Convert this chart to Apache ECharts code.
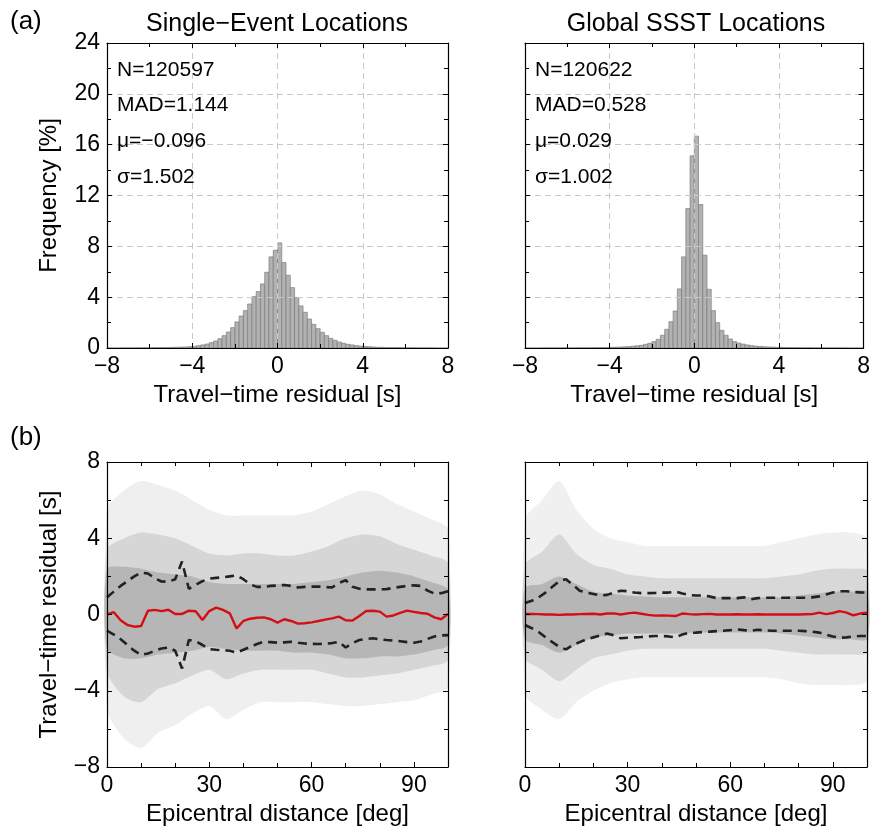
<!DOCTYPE html>
<html>
<head>
<meta charset="utf-8">
<script src="https://cdn.jsdelivr.net/npm/echarts@6/dist/echarts.min.js"></script>
<style>
  html, body { margin: 0; padding: 0; background: #fff; }
  #chart { width: 873px; height: 832px; }
</style>
</head>
<body>
<div id="chart"></div>
<script>
// histogram bins: 80 bins of 0.2 s from -8 to 8, frequency in %
const binStart = -8;
const binWidth = 0.2;
const histSingle = [
  0.00, 0.00, 0.00, 0.01, 0.01, 0.01, 0.01, 0.01, 0.02, 0.02,
  0.02, 0.03, 0.03, 0.04, 0.04, 0.05, 0.06, 0.07, 0.08, 0.10,
  0.13, 0.18, 0.24, 0.31, 0.42, 0.55, 0.73, 0.97, 1.26, 1.60,
  2.05, 2.52, 2.94, 3.46, 4.04, 4.44, 5.04, 5.96, 7.17, 7.69,
  8.27, 6.72, 5.72, 4.75, 3.96, 3.31, 2.81, 2.28, 1.86, 1.52,
  1.23, 0.97, 0.76, 0.60, 0.47, 0.37, 0.29, 0.24, 0.18, 0.15,
  0.12, 0.10, 0.08, 0.06, 0.05, 0.04, 0.04, 0.03, 0.03, 0.02,
  0.02, 0.02, 0.01, 0.01, 0.01, 0.01, 0.01, 0.00, 0.00, 0.00
];
const histSSST = [
  0.00, 0.00, 0.00, 0.00, 0.01, 0.01, 0.01, 0.01, 0.01, 0.01,
  0.01, 0.01, 0.02, 0.02, 0.02, 0.02, 0.03, 0.03, 0.04, 0.04,
  0.05, 0.06, 0.07, 0.09, 0.11, 0.14, 0.17, 0.21, 0.29, 0.37,
  0.50, 0.68, 1.00, 1.47, 2.07, 2.91, 4.65, 7.17, 10.97, 15.12,
  16.67, 11.29, 7.30, 4.62, 2.94, 1.99, 1.39, 1.00, 0.71, 0.50,
  0.39, 0.31, 0.24, 0.19, 0.15, 0.12, 0.10, 0.08, 0.07, 0.05,
  0.05, 0.04, 0.04, 0.03, 0.03, 0.02, 0.02, 0.02, 0.01, 0.01,
  0.01, 0.01, 0.01, 0.01, 0.01, 0.01, 0.00, 0.00, 0.00, 0.00
];

const statsSingle = ['N=120597', 'MAD=1.144', 'μ=−0.096', 'σ=1.502'];
const statsSSST = ['N=120622', 'MAD=0.528', 'μ=0.029', 'σ=1.002'];

// median and spread lines vs epicentral distance, 2 deg steps
const dist = [0,2,4,6,8,10,12,14,16,18,20,22,24,26,28,30,32,34,36,38,40,42,44,46,48,50,
  52,54,56,58,60,62,64,66,68,70,72,74,76,78,80,82,84,86,88,90,92,94,96,98,100];

const medianSingle = [0.0, 0.12, -0.3, -0.55, -0.64, -0.6, 0.2, 0.24, 0.18, 0.25, 0.03, 0.03, 0.2,
  0.17, -0.29, 0.18, 0.36, 0.24, 0.06, -0.73, -0.34, -0.22, -0.17, -0.15, -0.25, -0.43, -0.25,
  -0.34, -0.48, -0.46, -0.41, -0.34, -0.27, -0.2, -0.11, -0.3, -0.32, -0.08, 0.18, 0.2, 0.15,
  -0.11, -0.05, 0.08, 0.2, 0.14, 0.08, 0.04, -0.15, -0.25, 0.03];
const upperSingle = [0.9, 1.2, 1.5, 1.75, 2.0, 2.2, 2.15, 1.9, 1.73, 1.72, 1.85, 2.78, 1.35,
  1.55, 1.75, 1.88, 1.92, 1.95, 2.0, 2.05, 1.85, 1.58, 1.45, 1.45, 1.5, 1.52, 1.55, 1.5, 1.42,
  1.45, 1.46, 1.46, 1.44, 1.42, 1.65, 1.8, 1.45, 1.35, 1.32, 1.32, 1.32, 1.33, 1.4, 1.45, 1.5,
  1.53, 1.5, 1.25, 1.1, 1.12, 1.22];
const lowerSingle = [-0.85, -1.05, -1.3, -1.6, -1.9, -2.12, -2.05, -1.9, -1.78, -1.73, -1.9,
  -2.83, -1.34, -1.4, -1.6, -1.82, -1.85, -1.87, -1.9, -2.0, -1.85, -1.7, -1.55, -1.43, -1.45,
  -1.48, -1.46, -1.43, -1.48, -1.52, -1.54, -1.55, -1.53, -1.5, -1.43, -1.73, -1.5, -1.34,
  -1.28, -1.25, -1.3, -1.34, -1.37, -1.4, -1.45, -1.48, -1.42, -1.28, -1.15, -1.1, -1.08];

const medianSSST = [0.03, 0.03, 0.02, 0.0, 0.0, -0.02, 0.0, 0.0, 0.02, 0.03, 0.04, 0.0, 0.05,
  0.06, 0.0, 0.06, 0.1, 0.04, -0.02, -0.06, -0.05, -0.06, -0.08, 0.05, 0.02, 0.0, 0.02, 0.03,
  0.0, 0.0, 0.0, 0.01, 0.0, 0.0, 0.01, 0.0, 0.0, 0.0, 0.0, 0.0, 0.0, 0.01, 0.02, 0.1, 0.02,
  0.08, 0.18, 0.1, -0.04, 0.05, 0.1];
const upperSSST = [0.6, 0.72, 0.9, 1.15, 1.45, 1.75, 1.85, 1.55, 1.25, 1.15, 1.08, 1.0, 1.03,
  1.15, 1.25, 1.22, 1.15, 1.12, 1.12, 1.13, 1.15, 1.15, 1.2, 1.1, 1.02, 1.0, 1.0, 0.95, 0.86,
  0.86, 0.86, 0.86, 0.9, 0.8, 0.86, 0.88, 0.88, 0.88, 0.88, 0.88, 0.88, 0.88, 0.9, 0.95, 1.05,
  1.15, 1.22, 1.22, 1.18, 1.16, 1.15];
const lowerSSST = [-0.55, -0.72, -0.92, -1.2, -1.45, -1.7, -1.83, -1.6, -1.45, -1.3, -1.2,
  -1.1, -1.0, -1.1, -1.25, -1.22, -1.2, -1.18, -1.15, -1.13, -1.13, -1.15, -1.2, -1.05, -0.96,
  -0.95, -0.92, -0.9, -0.87, -0.85, -0.82, -0.78, -0.82, -0.85, -0.8, -0.83, -0.85, -0.85,
  -0.85, -0.85, -0.85, -0.87, -0.9, -0.95, -1.05, -1.15, -1.22, -1.2, -1.15, -1.13, -1.13];

// outline of the grey point cloud, 5 deg steps (dense core / scattered / sparse)
const cloudDist = [0,5,10,15,20,25,30,35,40,45,50,55,60,65,70,75,80,85,90,95,100];
const coreUpSingle = [2.4, 2.5, 2.4, 2.2, 2.1, 2.0, 1.7, 1.6, 1.6, 1.6, 1.6, 1.6, 1.7, 1.8, 2.0, 2.2, 2.3, 2.2, 2.0, 1.7, 1.3];
const coreLoSingle = [-1.8, -2.3, -2.3, -2.1, -2.0, -1.9, -1.7, -1.8, -1.9, -1.9, -1.9, -2.0, -2.0, -2.1, -2.3, -2.3, -2.2, -2.2, -2.1, -1.9, -1.6];
const midUpSingle = [3.4, 4.0, 4.3, 4.2, 4.0, 3.6, 3.2, 3.1, 3.2, 3.2, 3.1, 3.1, 3.3, 3.6, 4.0, 4.2, 4.1, 3.7, 3.4, 3.1, 2.7];
const midLoSingle = [-3.0, -4.3, -4.6, -3.9, -3.6, -3.2, -2.9, -3.4, -3.1, -2.9, -2.9, -2.9, -2.9, -3.1, -3.3, -3.3, -3.2, -3.1, -2.9, -2.7, -2.4];
const sparseUpSingle = [5.5, 6.5, 7.0, 6.8, 6.5, 6.0, 5.5, 5.2, 5.2, 5.2, 5.2, 5.2, 5.4, 5.8, 6.2, 6.5, 6.3, 5.8, 5.4, 5.0, 4.5];
const sparseLoSingle = [-5.0, -6.5, -7.0, -6.2, -5.8, -5.2, -4.8, -5.5, -5.0, -4.6, -4.6, -4.6, -4.6, -4.7, -4.8, -4.8, -4.7, -4.6, -4.5, -4.2, -3.8];

const coreUpSSST = [1.4, 1.6, 2.0, 1.6, 1.2, 1.1, 1.0, 0.95, 0.9, 0.9, 0.9, 0.9, 0.9, 0.9, 0.9, 0.9, 1.0, 1.1, 1.2, 1.2, 1.2];
const coreLoSSST = [-1.3, -1.6, -2.0, -1.6, -1.2, -1.1, -1.0, -1.0, -1.0, -1.0, -0.95, -0.95, -0.95, -0.95, -0.95, -1.0, -1.1, -1.2, -1.3, -1.3, -1.3];
const midUpSSST = [2.6, 3.3, 4.2, 3.2, 2.6, 2.4, 2.1, 2.0, 1.9, 1.9, 1.9, 1.9, 1.9, 1.9, 1.9, 2.0, 2.1, 2.3, 2.4, 2.4, 2.3];
const midLoSSST = [-2.3, -2.9, -3.5, -2.9, -2.3, -2.1, -1.9, -1.8, -1.8, -1.8, -1.8, -1.8, -1.8, -1.8, -1.8, -1.9, -2.0, -2.1, -2.1, -2.1, -2.0];
const sparseUpSSST = [5.0, 6.0, 7.0, 5.5, 4.5, 4.0, 3.8, 3.6, 3.6, 3.6, 3.6, 3.6, 3.6, 3.6, 3.6, 3.8, 4.0, 4.2, 4.3, 4.3, 4.0];
const sparseLoSSST = [-4.2, -5.0, -5.5, -4.6, -4.0, -3.6, -3.4, -3.3, -3.3, -3.3, -3.3, -3.3, -3.3, -3.3, -3.3, -3.4, -3.6, -3.7, -3.7, -3.7, -3.5];

const histTicks = { min: -8, max: 8, interval: 4 };
const freqTicks = { min: 0, max: 24, interval: 4 };
const distTicks = { min: 0, max: 100, interval: 30 };
const resTicks = { min: -8, max: 8, interval: 4 };

const FONT = 'Liberation Sans';
const minus = (v) => String(v).replace('-', '−');

const grids = [
  { left: 107, top: 43, width: 341, height: 305 },
  { left: 525, top: 43, width: 342, height: 305 },
  { left: 107, top: 462, width: 341, height: 305 },
  { left: 525, top: 462, width: 342, height: 305 }
];

function axis(gridIndex, ticks, opts) {
  const base = {
    gridIndex, type: 'value', min: ticks.min, max: ticks.max, interval: ticks.interval,
    axisLine: { show: true, onZero: false, lineStyle: { color: '#000', width: 1.2 } },
    axisTick: { show: true, inside: true, length: 5, lineStyle: { color: '#000', width: 1 } },
    minorTick: { show: true, splitNumber: opts.minor || 2, length: 4, lineStyle: { color: '#000', width: 1 } },
    axisLabel: {
      show: !!opts.labels, color: '#000', fontFamily: FONT, fontSize: 23, margin: 7,
      formatter: minus, showMaxLabel: opts.hideMax ? false : null
    },
    splitLine: { show: !!opts.grid, lineStyle: { color: '#c8c8c8', type: [6, 4], width: 1 } },
    nameTextStyle: { color: '#000', fontFamily: FONT, fontSize: 24 },
    z: 5
  };
  if (opts.position) base.position = opts.position;
  if (opts.name) {
    base.name = opts.name;
    base.nameLocation = 'middle';
    base.nameGap = opts.nameGap;
  }
  return base;
}

const xAxes = [
  axis(0, histTicks, { labels: true, grid: true, name: 'Travel−time residual [s]', nameGap: 35 }),
  axis(1, histTicks, { labels: true, grid: true, name: 'Travel−time residual [s]', nameGap: 35 }),
  axis(2, distTicks, { labels: true, hideMax: true, minor: 3, name: 'Epicentral distance [deg]', nameGap: 35 }),
  axis(3, distTicks, { labels: true, hideMax: true, minor: 3, name: 'Epicentral distance [deg]', nameGap: 35 }),
  axis(0, histTicks, { position: 'top' }),
  axis(1, histTicks, { position: 'top' }),
  axis(2, distTicks, { position: 'top', minor: 3 }),
  axis(3, distTicks, { position: 'top', minor: 3 })
];
const yAxes = [
  axis(0, freqTicks, { labels: true, grid: true, name: 'Frequency [%]', nameGap: 46 }),
  axis(1, freqTicks, { grid: true }),
  axis(2, resTicks, { labels: true, name: 'Travel−time residual [s]', nameGap: 46 }),
  axis(3, resTicks, {}),
  axis(0, freqTicks, { position: 'right' }),
  axis(1, freqTicks, { position: 'right' }),
  axis(2, resTicks, { position: 'right' }),
  axis(3, resTicks, { position: 'right' })
];

function renderBin(params, api) {
  const p0 = api.coord([api.value(0), api.value(2)]);
  const p1 = api.coord([api.value(1), 0]);
  return {
    type: 'rect',
    shape: { x: p0[0], y: p0[1], width: p1[0] - p0[0], height: p1[1] - p0[1] },
    style: { fill: '#b2b2b2', stroke: '#7c7c7c', lineWidth: 0.7 }
  };
}

function histSeries(idx, hist) {
  return {
    type: 'custom', xAxisIndex: idx, yAxisIndex: idx, renderItem: renderBin,
    encode: { x: [0, 1], y: 2 }, z: 3, silent: true,
    data: hist.map((v, i) => [binStart + i * binWidth, binStart + (i + 1) * binWidth, v])
  };
}

function pairs(xs, ys) { return xs.map((x, i) => [x, ys[i]]); }

// one closed polygon per cloud band: upper edge left to right, lower edge back
function bandSeries(idx, up, lo, color, z) {
  return {
    type: 'custom', xAxisIndex: idx, yAxisIndex: idx, silent: true, z,
    data: [[0, 0]],
    renderItem: (params, api) => {
      const top = cloudDist.map((d, i) => api.coord([d, up[i]]));
      const bottom = cloudDist.map((d, i) => api.coord([d, lo[i]])).reverse();
      return {
        type: 'polygon',
        shape: { points: top.concat(bottom), smooth: 0.25 },
        style: { fill: color }
      };
    }
  };
}

function lineSeries(idx, vals, color, dashed) {
  return {
    type: 'line', xAxisIndex: idx, yAxisIndex: idx, data: pairs(dist, vals),
    showSymbol: false, silent: true, z: 4,
    lineStyle: { color, width: dashed ? 2.6 : 2.4, type: dashed ? [9, 6] : 'solid' }
  };
}

const series = [
  histSeries(0, histSingle),
  histSeries(1, histSSST),
  bandSeries(2, sparseUpSingle, sparseLoSingle, '#efefef', 1),
  bandSeries(2, midUpSingle, midLoSingle, '#d6d6d6', 2),
  bandSeries(2, coreUpSingle, coreLoSingle, '#b6b6b6', 3),
  bandSeries(3, sparseUpSSST, sparseLoSSST, '#f0f0f0', 1),
  bandSeries(3, midUpSSST, midLoSSST, '#d8d8d8', 2),
  bandSeries(3, coreUpSSST, coreLoSSST, '#b6b6b6', 3),
  lineSeries(2, upperSingle, '#222', true), lineSeries(2, lowerSingle, '#222', true),
  lineSeries(2, medianSingle, '#d40f14', false),
  lineSeries(3, upperSSST, '#222', true), lineSeries(3, lowerSSST, '#222', true),
  lineSeries(3, medianSSST, '#d40f14', false)
];

function statsText(x, lines) {
  return lines.map((t, i) => ({
    type: 'text', x, y: 70 + i * 35.7, z: 10,
    style: { text: t, fill: '#000', font: '21px "' + FONT + '"', align: 'left', verticalAlign: 'middle' }
  }));
}

const graphic = [
  { type: 'text', x: 10, y: 22, style: { text: '(a)', fill: '#000', font: '26px "' + FONT + '"', verticalAlign: 'middle' } },
  { type: 'text', x: 10, y: 438, style: { text: '(b)', fill: '#000', font: '26px "' + FONT + '"', verticalAlign: 'middle' } },
  { type: 'text', x: 277, y: 24, style: { text: 'Single−Event Locations', fill: '#000', font: '25px "' + FONT + '"', align: 'center', verticalAlign: 'middle' } },
  { type: 'text', x: 696, y: 24, style: { text: 'Global SSST Locations', fill: '#000', font: '25px "' + FONT + '"', align: 'center', verticalAlign: 'middle' } }
].concat(statsText(117, statsSingle), statsText(535, statsSSST));

const chart = echarts.init(document.getElementById('chart'), null, { renderer: 'canvas' });
chart.setOption({
  animation: false,
  backgroundColor: '#fff',
  textStyle: { fontFamily: FONT },
  grid: grids,
  xAxis: xAxes,
  yAxis: yAxes,
  series,
  graphic
});
</script>
</body>
</html>
